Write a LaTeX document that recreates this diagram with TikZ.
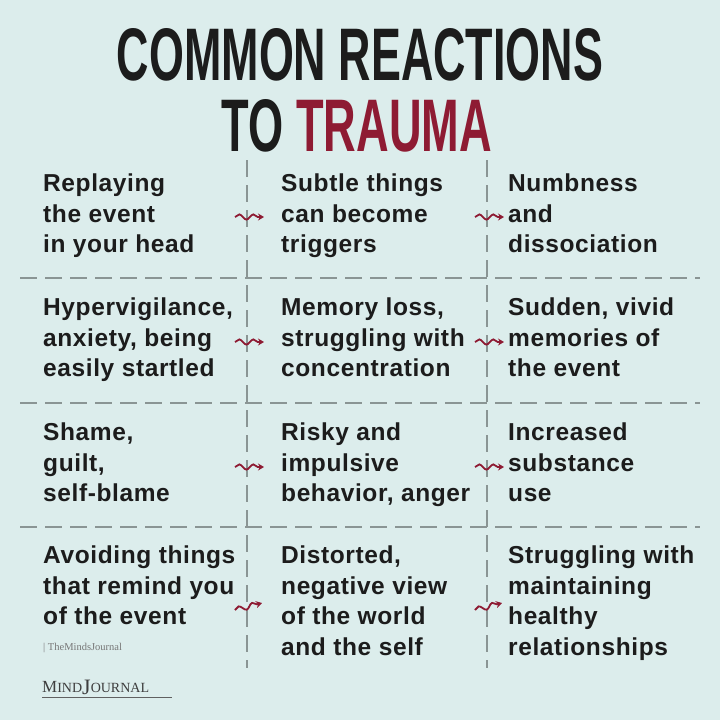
\documentclass[tikz,border=0pt]{standalone}
\usepackage{fontspec}
\setmainfont{Liberation Sans}
\newfontfamily\cellfont[LetterSpace=2.5]{Liberation Sans}
\newfontfamily\serifont{Liberation Serif}
\usetikzlibrary{decorations.pathmorphing,arrows.meta}
\definecolor{bg}{HTML}{DCEDEC}
\definecolor{ink}{HTML}{1C1C1C}
\definecolor{maroon}{HTML}{8E1B33}
\definecolor{grid}{HTML}{8A9594}
\begin{document}
\begin{tikzpicture}[x=1pt,y=-1pt,
  cell/.style={anchor=north west,align=left,inner sep=0pt,text=ink,
    font=\cellfont\fontsize{24.5}{30.5}\selectfont\bfseries},
  gridline/.style={draw=grid,line width=1.3pt,dash pattern=on 17pt off 8pt},
  squig/.style={draw=maroon,line width=1.8pt,-{Stealth[length=6pt,width=7pt]},
    decorate,decoration={snake,amplitude=2.6pt,segment length=14pt,post length=5pt}}]
\fill[bg] (0,0) rectangle (720,720);
\useasboundingbox (0,0) rectangle (720,720);
\node (t1) at (360,55) {\resizebox{486pt}{52pt}{\bfseries\color{ink}COMMON REACTIONS}};
\node (t2) at (357,126) {\resizebox{270pt}{52pt}{\bfseries\color{ink}TO \color{maroon}TRAUMA}};
% grid
\draw[gridline] (247,160) -- (247,668);
\draw[gridline] (487,160) -- (487,668);
\foreach \y in {278,403,527} \draw[gridline] (20,\y) -- (700,\y);
% cells
\node[cell] (a1) at (43,174) {Replaying\\the event\\in your head};
\node[cell] (b1) at (281,174) {Subtle things\\can become\\triggers};
\node[cell] (c1) at (508,174) {Numbness\\and\\dissociation};
\node[cell] (a2) at (43,298) {Hypervigilance,\\anxiety, being\\easily startled};
\node[cell] (b2) at (281,298) {Memory loss,\\struggling with\\concentration};
\node[cell] (c2) at (508,298) {Sudden, vivid\\memories of\\the event};
\node[cell] (a3) at (43,423) {Shame,\\guilt,\\self-blame};
\node[cell] (b3) at (281,423) {Risky and\\impulsive\\behavior, anger};
\node[cell] (c3) at (508,423) {Increased\\substance\\use};
\node[cell] (a4) at (43,546) {Avoiding things\\that remind you\\of the event};
\node[cell] (b4) at (281,546) {Distorted,\\negative view\\of the world\\and the self};
\node[cell] (c4) at (508,546) {Struggling with\\maintaining\\healthy\\relationships};
% arrows
\foreach \x/\y in {235/217,475/217,235/342,475/342,235/467,475/467}
  \draw[squig] (\x,\y) -- ++(29,0);
\draw[squig] (235,610) -- ++(27,-7);
\draw[squig] (475,610) -- ++(27,-7);
% logo
\node[anchor=west,inner sep=0pt,text=ink!60,font=\serifont\fontsize{10.5}{10.5}\selectfont] (l1) at (43,648) {| TheMindsJournal};
\node[anchor=west,inner sep=0pt,text=ink!85,font=\serifont\fontsize{17}{17}\selectfont] (l2) at (42,687) {M{\fontsize{14}{14}\selectfont IND}\raisebox{-2pt}{\fontsize{22}{22}\selectfont J}{\fontsize{14}{14}\selectfont OURNAL}};
\draw[ink!70,line width=0.8pt] (42,697) -- (172,697);
\end{tikzpicture}
\end{document}
